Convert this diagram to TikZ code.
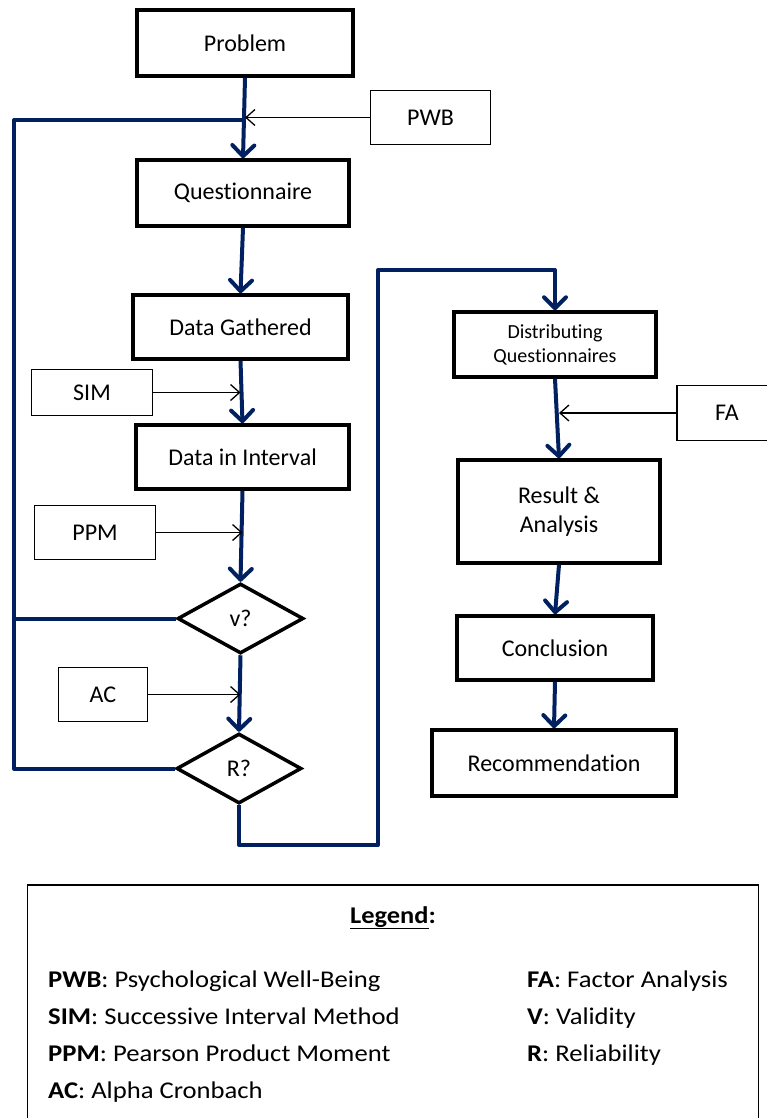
\documentclass[tikz,border=0pt]{standalone}
\usepackage{fontspec}
\setmainfont{Carlito}[Ligatures=NoCommon]
\usetikzlibrary{arrows.meta,shapes.geometric}
\definecolor{navy}{RGB}{0,32,96}
\begin{document}
\begin{tikzpicture}[x=1pt,y=-1pt,
  box/.style={draw,line width=3.5pt,rectangle,inner sep=0pt,align=center,font=\fontsize{24}{29}\selectfont},
  sbox/.style={draw,line width=1.5pt,rectangle,inner sep=0pt,align=center,font=\fontsize{24}{29}\selectfont},
  dia/.style={draw,line width=3.5pt,diamond,inner sep=0pt,font=\fontsize{24}{29}\selectfont},
  flow/.style={draw=navy,line width=4pt,line join=round,-{Straight Barb[length=11pt,width=22pt,line width=4pt,round]}},
  fline/.style={draw=navy,line width=4pt,line join=round},
  thin/.style={draw,line width=1.3pt,-{Straight Barb[length=9pt,width=16pt,line width=1.3pt]}},
  leg/.style={anchor=base west,inner sep=0pt,font=\fontsize{24}{29}\selectfont}
]
\useasboundingbox (0,0) rectangle (767,1118);
% main boxes
\node[box,minimum width=216pt,minimum height=66pt] (prob) at (245,43) {Problem};
\node[box,minimum width=212pt,minimum height=66pt] (ques) at (243,193) {Questionnaire};
\node[box,minimum width=215pt,minimum height=64pt] (dg) at (240.5,327) {Data Gathered};
\node[box,minimum width=213pt,minimum height=64pt] (dii) at (242.5,457) {Data in Interval};
\node[dia,minimum width=126pt,minimum height=70pt] (v) at (240.5,618.5) {v?};
\node[dia,minimum width=125pt,minimum height=70pt] (r) at (239,768.5) {R?};
\node[box,minimum width=202pt,minimum height=65pt,font=\fontsize{20}{24}\selectfont] (dq) at (555,344.5) {Distributing\\Questionnaires};
\node[box,minimum width=202pt,minimum height=103pt] (ra) at (559,511.5) {Result \&\\Analysis};
\node[box,minimum width=196pt,minimum height=64pt] (con) at (555,648) {Conclusion};
\node[box,minimum width=244pt,minimum height=66pt] (rec) at (554,763) {Recommendation};
% side boxes
\node[sbox,minimum width=120pt,minimum height=54pt] (pwb) at (430.5,117.5) {PWB};
\node[sbox,minimum width=121pt,minimum height=46pt] (sim) at (92,392.5) {SIM};
\node[sbox,minimum width=121pt,minimum height=54pt] (ppm) at (95,532.5) {PPM};
\node[sbox,minimum width=89pt,minimum height=54pt] (ac) at (103,694.5) {AC};
\node[sbox,minimum width=100pt,minimum height=55pt] (fa) at (727,413) {FA};
% coordinates
\coordinate (jn) at (244,120);
\coordinate (lft) at (14,0);
\coordinate (rc) at (378,845);
\coordinate (rt) at (378,270);
% blue flow
\draw[flow] (prob.south) -- (ques.north);
\draw[flow] (ques.south) -- (dg.north);
\draw[flow] (dg.south) -- (dii.north);
\draw[flow] (dii.south) -- (v.north);
\draw[flow] (v.south) -- (r.north);
\draw[fline] (r.west) -- (r.west -| lft) -- (jn -| lft) -- (jn);
\draw[fline] (v.west) -- (v.west -| lft);
\draw[flow] (r.south) |- (rc) -- (rt) -| (dq.north);
\draw[flow] (dq.south) -- (ra.north);
\draw[flow] (ra.south) -- (con.north);
\draw[flow] (con.south) -- (rec.north);
% thin arrows
\draw[thin] (pwb.west) -- (pwb.west -| prob.south);
\draw[thin] (sim.east) -- (sim.east -| dg.south);
\draw[thin] (ppm.east) -- (ppm.east -| dii.south);
\draw[thin] (ac.east) -- (ac.east -| v.south);
\draw[thin] (fa.west) -- (fa.west -| ra.north);
% legend
\node[draw,line width=1.8pt,minimum width=731pt,minimum height=260pt,inner sep=0pt] (legend) at (393,1015) {};
\node[anchor=base,inner sep=0pt,font=\fontsize{24}{29}\selectfont\bfseries] (legt) at (393,923) {\scalebox{1.1}[1]{\underline{Legend}:}};
\node[leg] (l1) at (48,987) {\scalebox{1.11}[1]{\textbf{PWB}: Psychological Well-Being}};
\node[leg] (l2) at (48,1024) {\scalebox{1.11}[1]{\textbf{SIM}: Successive Interval Method}};
\node[leg] (l3) at (48,1061) {\scalebox{1.11}[1]{\textbf{PPM}: Pearson Product Moment}};
\node[leg] (l4) at (48,1098) {\scalebox{1.11}[1]{\textbf{AC}: Alpha Cronbach}};
\node[leg] (l5) at (527,987) {\scalebox{1.11}[1]{\textbf{FA}: Factor Analysis}};
\node[leg] (l6) at (527,1024) {\scalebox{1.11}[1]{\textbf{V}: Validity}};
\node[leg] (l7) at (527,1061) {\scalebox{1.11}[1]{\textbf{R}: Reliability}};
\end{tikzpicture}
\end{document}
